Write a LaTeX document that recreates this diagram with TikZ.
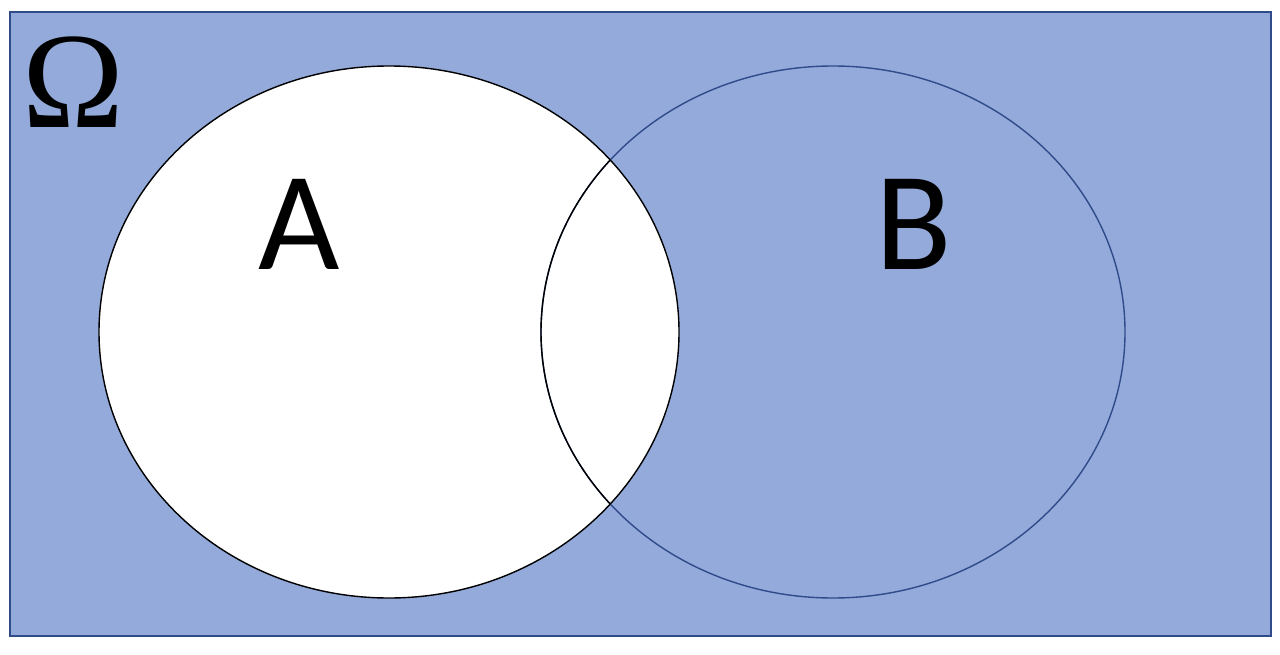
\documentclass[tikz,border=0pt]{standalone}
\usepackage{fontspec}
\setmainfont{Carlito}
\newfontfamily\omegafont{Liberation Serif}
\definecolor{omegafill}{HTML}{94AADA}
\definecolor{omegaline}{HTML}{2F4B8A}
\tikzset{
  setlabel/.style={font=\fontsize{80}{80}\selectfont, text=black},
}
\begin{document}
\begin{tikzpicture}[x=0.02cm, y=-0.02cm]
  \useasboundingbox (0,0) rectangle (1280,655);
  \draw[omegaline, fill=omegafill, line width=0.8pt] (10,12) rectangle (1271,636);
  \fill[white] (389,332) ellipse [x radius=290, y radius=266];
  \draw[omegaline, line width=0.8pt] (833,332) ellipse [x radius=292, y radius=266];
  \begin{scope}
    \clip (389,332) ellipse [x radius=290, y radius=266];
    \draw[black, line width=0.8pt] (833,332) ellipse [x radius=292, y radius=266];
  \end{scope}
  \draw[black, line width=0.8pt] (389,332) ellipse [x radius=290, y radius=266];
  \node[setlabel] (labelA) at (299,224) {A};
  \node[setlabel] (labelB) at (914,224) {B};
  \node[font=\omegafont\fontsize{78}{78}\selectfont] (labelOmega) at (73,82) {Ω};
\end{tikzpicture}
\end{document}
